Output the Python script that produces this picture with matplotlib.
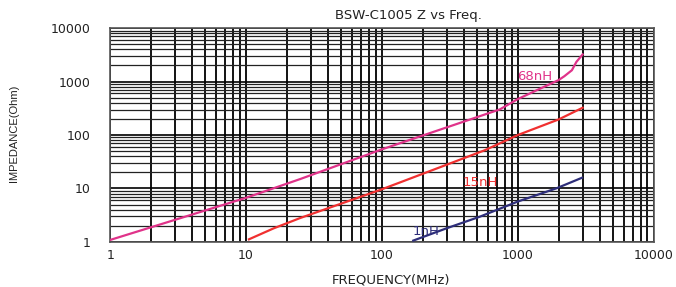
import matplotlib
matplotlib.use('Agg')
import matplotlib.pyplot as plt
from matplotlib.ticker import LogLocator, NullFormatter, FixedLocator

plt.rcParams['font.family'] = ['DejaVu Sans']

# curve data (MHz, Ohm)
freq_68nh = [1, 10, 25, 100, 738, 1000, 2000, 2200, 2500, 2700, 3000]
z_68nh = [1.09, 6.7, 15, 54, 302, 471, 1070, 1260, 1630, 2340, 3220]

freq_15nh = [10.5, 16, 25, 97, 136, 572, 738, 1000, 2000, 3000]
z_15nh = [1.12, 1.8, 2.8, 9.4, 13.0, 52, 70, 100, 196, 324]

freq_1nh = [170, 299, 526, 1000, 1930, 2970]
z_1nh = [1.06, 1.8, 2.97, 5.7, 10.1, 15.9]

x_ticks = [1, 10, 100, 1000, 10000]
y_ticks = [1, 10, 100, 1000, 10000]

fig = plt.figure(figsize=(6.76, 2.87), dpi=100)
ax = fig.add_axes([0.163, 0.157, 0.804, 0.745])

ax.set_xscale('log')
ax.set_yscale('log')
ax.set_xlim(1, 10000)
ax.set_ylim(1, 10000)

ax.xaxis.set_major_locator(FixedLocator(x_ticks))
ax.yaxis.set_major_locator(FixedLocator(y_ticks))
ax.xaxis.set_minor_locator(LogLocator(base=10, subs=range(2, 10), numticks=20))
ax.yaxis.set_minor_locator(LogLocator(base=10, subs=range(2, 10), numticks=20))
ax.xaxis.set_minor_formatter(NullFormatter())
ax.yaxis.set_minor_formatter(NullFormatter())
ax.set_xticklabels([str(v) for v in x_ticks])
ax.set_yticklabels([str(v) for v in y_ticks])

# vertical lines a bit heavier than horizontal ones, like the datasheet
ax.xaxis.grid(True, which='both', color='black', linewidth=1.3)
ax.yaxis.grid(True, which='major', color='black', linewidth=1.2)
ax.yaxis.grid(True, which='minor', color='#222222', linewidth=0.9)
ax.tick_params(which='both', length=0, labelsize=9, colors='#222222')
ax.tick_params(axis='y', pad=14)
ax.tick_params(axis='x', pad=5)
for s in ax.spines.values():
    s.set_color('#555555')
    s.set_linewidth(1.2)

ax.plot(freq_68nh, z_68nh, color='#e0338a', linewidth=1.6, zorder=5)
ax.plot(freq_15nh, z_15nh, color='#f03030', linewidth=1.6, zorder=5)
ax.plot(freq_1nh, z_1nh, color='#2e2e7a', linewidth=1.6, zorder=5)

ax.text(1334, 1268, '68nH', color='#e0338a', fontsize=9.5, ha='center', va='center', zorder=6)
ax.text(526, 13.2, '15nH', color='#f03030', fontsize=9.5, ha='center', va='center', zorder=6)
ax.text(210, 1.54, '1nH', color='#2e2e7a', fontsize=9.5, ha='center', va='center', zorder=6)

fig.text(408 / 676, 1 - 15 / 287, 'BSW-C1005 Z vs Freq.', fontsize=9.5, ha='center', va='center', color='#222222')
fig.text(391 / 676, 1 - 280 / 287, 'FREQUENCY(MHz)', fontsize=9.5, ha='center', va='center', color='#222222')
fig.text(14 / 676, 1 - 133 / 287, 'IMPEDANCE(Ohm)', fontsize=8, ha='center', va='center', rotation=90,
         color='#222222', family='Liberation Sans')

fig.savefig('out.png', dpi=100)
